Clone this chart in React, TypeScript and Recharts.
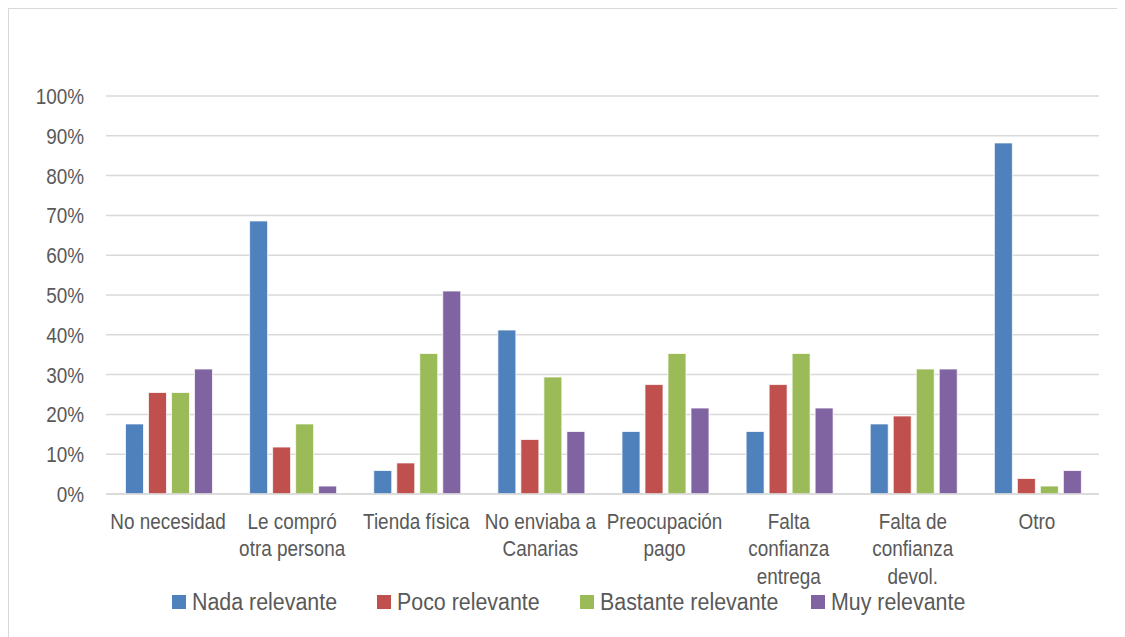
import { BarChart, Bar, XAxis, YAxis, CartesianGrid, Legend } from "recharts";

// motivos (con saltos de línea como en el original)
const categories = [
  "No necesidad",
  "Le compró\notra persona",
  "Tienda física",
  "No enviaba a\nCanarias",
  "Preocupación\npago",
  "Falta\nconfianza\nentrega",
  "Falta de\nconfianza\ndevol.",
  "Otro",
];

const nada = [17.6, 68.6, 5.9, 41.2, 15.7, 15.7, 17.6, 88.2];
const poco = [25.5, 11.8, 7.8, 13.7, 27.5, 27.5, 19.6, 3.9];
const bastante = [25.5, 17.6, 35.3, 29.4, 35.3, 35.3, 31.4, 2.0];
const muy = [31.4, 2.0, 51.0, 15.7, 21.6, 21.6, 31.4, 5.9];

const yTicks = [0, 10, 20, 30, 40, 50, 60, 70, 80, 90, 100];

const series = [
  { key: "nada", name: "Nada relevante", color: "#4F81BD" },
  { key: "poco", name: "Poco relevante", color: "#C0504D" },
  { key: "bastante", name: "Bastante relevante", color: "#9BBB59" },
  { key: "muy", name: "Muy relevante", color: "#8064A2" },
];

const data = categories.map((c, i) => ({
  cat: c,
  nada: nada[i],
  poco: poco[i],
  bastante: bastante[i],
  muy: muy[i],
}));

// no hay fuente estrecha instalada: se comprime en horizontal
const FONT = '"Liberation Sans", Arial, sans-serif';
const TEXT = "#595959";
const SQUEEZE = 0.86;

const CatTick = (props: any) => {
  const { x, y, payload } = props;
  const lines = String(payload.value).split("\n");
  return (
    <g transform={`translate(${x},${y}) scale(${SQUEEZE},1)`}>
      <text x={0} y={0} textAnchor="middle" fill={TEXT} fontSize={22} fontFamily={FONT}>
        {lines.map((l, i) => (
          <tspan key={i} x={0} dy={i === 0 ? 27 : 27.5}>
            {l}
          </tspan>
        ))}
      </text>
    </g>
  );
};

const PctTick = (props: any) => {
  const { x, y, payload } = props;
  return (
    <g transform={`translate(${x},${y}) scale(${SQUEEZE},1)`}>
      <text x={0} y={0} dy="0.36em" textAnchor="end" fill={TEXT} fontSize={22} fontFamily={FONT}>
        {`${payload.value}%`}
      </text>
    </g>
  );
};

const itemWidths = [205, 203, 231, 165];

const LegendBox = () => (
  <div
    style={{
      display: "flex",
      justifyContent: "center",
      height: 30,
      alignItems: "center",
      fontFamily: FONT,
      fontSize: 23,
      color: TEXT,
      paddingLeft: 40,
    }}
  >
    {series.map((s, i) => (
      <div key={s.key} style={{ display: "flex", alignItems: "center", width: itemWidths[i] }}>
        <span
          style={{ width: 14, height: 14, background: s.color, marginRight: 6, display: "inline-block", flex: "none" }}
        />
        <span
          style={{
            display: "inline-block",
            whiteSpace: "nowrap",
            transform: "scaleX(0.93)",
            transformOrigin: "left center",
          }}
        >
          {s.name}
        </span>
      </div>
    ))}
  </div>
);

export default function App() {
  return (
    <div
      style={{
        width: 1116,
        height: 628,
        borderTop: "1px solid #d9d9d9",
        borderLeft: "1px solid #d9d9d9",
        background: "#fff",
        overflow: "hidden",
      }}
    >
      <BarChart
        width={1116}
        height={628}
        data={data}
        margin={{ top: 87, right: 26, left: 0, bottom: 20 }}
        barCategoryGap="15.7%"
        barGap={5}
      >
        <CartesianGrid vertical={false} stroke="#d9d9d9" strokeWidth={1.5} />
        <XAxis
          dataKey="cat"
          height={93}
          interval={0}
          tickLine={false}
          axisLine={{ stroke: "#d9d9d9", strokeWidth: 1.5 }}
          tick={<CatTick />}
        />
        <YAxis
          width={97}
          domain={[0, 100]}
          ticks={yTicks}
          interval={0}
          axisLine={false}
          tickLine={false}
          tickMargin={16}
          tick={<PctTick />}
        />
        <Legend verticalAlign="bottom" height={30} content={<LegendBox />} />
        {series.map((s) => (
          <Bar
            key={s.key}
            dataKey={s.key}
            name={s.name}
            fill={s.color}
            stroke="#ffffff"
            strokeWidth={0.75}
            isAnimationActive={false}
          />
        ))}
      </BarChart>
    </div>
  );
}
